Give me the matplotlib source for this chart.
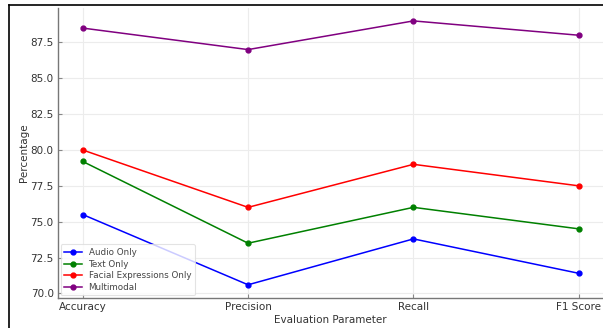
import numpy as np
import matplotlib
matplotlib.use("Agg")
import matplotlib.pyplot as plt
from matplotlib.lines import Line2D

params = ["Accuracy", "Precision", "Recall", "F1 Score"]
audio = [75.5, 70.6, 73.8, 71.4]
text = [79.2, 73.5, 76.0, 74.5]
facial = [80.0, 76.0, 79.0, 77.5]
multimodal = [88.5, 87.0, 89.0, 88.0]

series = [("Audio Only", audio, "blue"),
          ("Text Only", text, "green"),
          ("Facial Expressions Only", facial, "red"),
          ("Multimodal", multimodal, "purple")]

fig = plt.figure(figsize=(6.03, 3.28), dpi=100)
ax = fig.add_axes([0.096, 0.0915, 0.905, 0.885])

x = np.arange(len(params))
for name, vals, col in series:
    ax.plot(x, vals, marker="o", color=col, label=name, lw=1.1, ms=3.5)

ax.set_xticks(x)
ax.set_xticklabels(params)
ax.set_xlabel("Evaluation Parameter", fontsize=7.5, color="#333333", labelpad=2)
ax.set_ylabel("Percentage", fontsize=7.5, color="#333333", labelpad=1)
ax.tick_params(direction="in", labelsize=7.5, labelcolor="#333333", color="#888888", length=3, pad=3)
ax.grid(True, color="#ececec", lw=0.8)
for s in ["top", "right"]:
    ax.spines[s].set_visible(False)
for s in ["left", "bottom"]:
    ax.spines[s].set_color("#777777")
    ax.spines[s].set_linewidth(1.0)

leg = ax.legend(loc="lower left", fontsize=6.3, frameon=True, borderpad=0.4,
                labelspacing=0.3, handlelength=2.0, borderaxespad=0.3)
leg.get_frame().set_edgecolor("#dddddd")
leg.get_frame().set_linewidth(0.8)
for t in leg.get_texts():
    t.set_color("#444444")

# border of the screenshot
fig.add_artist(Line2D([9/603, 9/603], [0, 1 - 5/328], color="black", lw=1.2, transform=fig.transFigure))
fig.add_artist(Line2D([9/603, 1], [1 - 5/328, 1 - 5/328], color="black", lw=1.2, transform=fig.transFigure))

fig.savefig("out.png", dpi=100)
